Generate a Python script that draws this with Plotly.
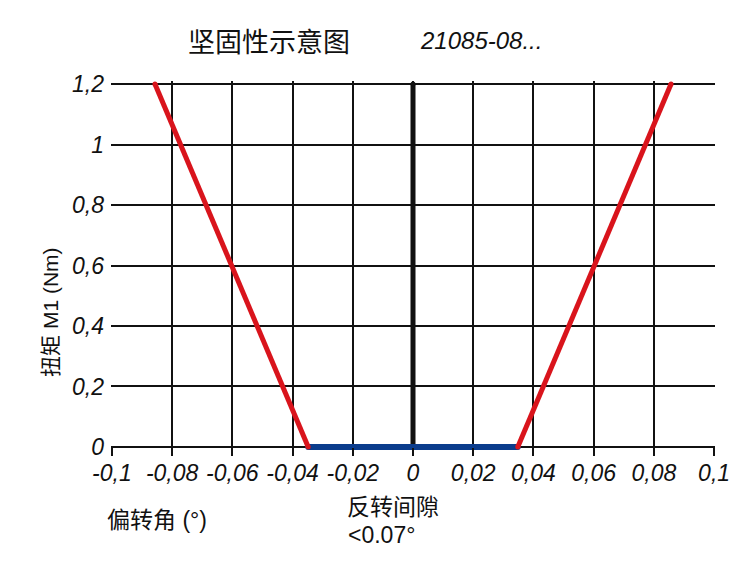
import plotly.graph_objects as go

# Data
left_x = [-0.0857, -0.0348]
left_y = [1.2, 0.0]
flat_x = [-0.0348, 0.0348]
flat_y = [0.0, 0.0]
right_x = [0.0348, 0.0857]
right_y = [0.0, 1.2]
center_x = [0.0, 0.0]
center_y = [0.0, 1.2]

x_tickvals = [-0.1, -0.08, -0.06, -0.04, -0.02, 0, 0.02, 0.04, 0.06, 0.08, 0.1]
x_ticktext = ["-0,1", "-0,08", "-0,06", "-0,04", "-0,02", "0", "0,02", "0,04", "0,06", "0,08", "0,1"]
y_tickvals = [0, 0.2, 0.4, 0.6, 0.8, 1.0, 1.2]
y_ticktext = ["0", "0,2", "0,4", "0,6", "0,8", "1", "1,2"]

red = "#d9141c"
blue = "#0b3c8c"
ink = "#111111"
latin = "Liberation Sans, Arial"
cjk = "Liberation Sans, Noto Sans CJK SC"
tickfont = dict(family=latin, size=23, color=ink, style="italic")

# axis ranges padded a little so thick lines are not clipped at the frame
X_RANGE = [-0.1003, 0.1003]
Y_RANGE = [-0.0100, 1.2100]

# page body has an 8px margin; figure is laid out in window pixels minus 8
OFF = 8
W, H = 750 - OFF, 580 - OFF
# frame (x=-0.1..0.1, y=0..1.2) sits at window px x 112..714, y 84..447
fx0, fx1, fy1, fy0 = 112, 714, 84, 447
sx = (fx1 - fx0) / 0.2
sy = (fy0 - fy1) / 1.2
L = fx0 + (X_RANGE[0] + 0.1) * sx - OFF
R = 750 - (fx1 + (X_RANGE[1] - 0.1) * sx)
T = fy1 - (Y_RANGE[1] - 1.2) * sy - OFF
B = 580 - (fy0 + (0 - Y_RANGE[0]) * sy)

fig = go.Figure()
def add_line(x, y, color, width):
    fig.add_trace(go.Scatter(x=x, y=y, mode="lines+markers",
                             line=dict(color=color, width=width),
                             marker=dict(color=color, size=width, line=dict(width=0)),
                             cliponaxis=False, hoverinfo="skip"))

add_line(center_x, center_y, ink, 5)
add_line(flat_x, flat_y, blue, 6)
add_line(left_x, left_y, red, 5)
add_line(right_x, right_y, red, 5)

zero_pos = (0 - Y_RANGE[0]) / (Y_RANGE[1] - Y_RANGE[0])

# white strip above the frame hides grid stubs in the padding (under the traces)
fig.add_shape(type="rect", xref="paper", yref="y", x0=0, x1=1,
              y0=1.2 + 0.8 / sy, y1=Y_RANGE[1], fillcolor="white",
              line=dict(width=0), layer="between")

fig.update_layout(
    width=W, height=H,
    margin=dict(l=L, r=R, t=T, b=B, pad=0),
    paper_bgcolor="white", plot_bgcolor="white",
    showlegend=False,
    xaxis=dict(range=X_RANGE, tickvals=x_tickvals, ticktext=x_ticktext,
               showgrid=True, gridcolor=ink, gridwidth=1.5,
               showline=False, anchor="free", position=zero_pos,
               ticks="outside", ticklen=8, tickcolor=ink, tickwidth=1.5,
               ticklabelstandoff=-3,
               tickfont=tickfont, zeroline=False),
    yaxis=dict(range=Y_RANGE, tickvals=y_tickvals, ticktext=y_ticktext,
               showgrid=True, gridcolor=ink, gridwidth=1.5,
               showline=False, ticks="", ticklabelstandoff=6,
               tickfont=tickfont, zeroline=False),
)

def px(xp): return (xp - OFF - L) / (W - L - R)
def py(yp): return (H - B - (yp - OFF)) / (H - T - B)

ann_specs = [
    ("坚固性示意图", 269, 40, dict(family="Noto Sans CJK SC", size=27, color=ink), 0),
    ("21085-08...", 481, 40, dict(family=latin, size=24, color=ink, style="italic"), 0),
    ("扭矩 M1 (Nm)", 51, 312, dict(family=cjk, size=21, color=ink), -90),
    ("偏转角 (°)", 157, 520, dict(family=cjk, size=23, color=ink), 0),
    ("反转间隙", 393, 505, dict(family="Noto Sans CJK SC", size=23, color=ink), 0),
    ("<0.07°", 382, 535, dict(family=latin, size=23, color=ink), 0),
]
for text, xp, yp, font, ang in ann_specs:
    fig.add_annotation(text=text, x=px(xp), y=py(yp), xref="paper", yref="paper",
                       showarrow=False, font=font, textangle=ang,
                       xanchor="center", yanchor="middle")

fig.write_html("out.html")
